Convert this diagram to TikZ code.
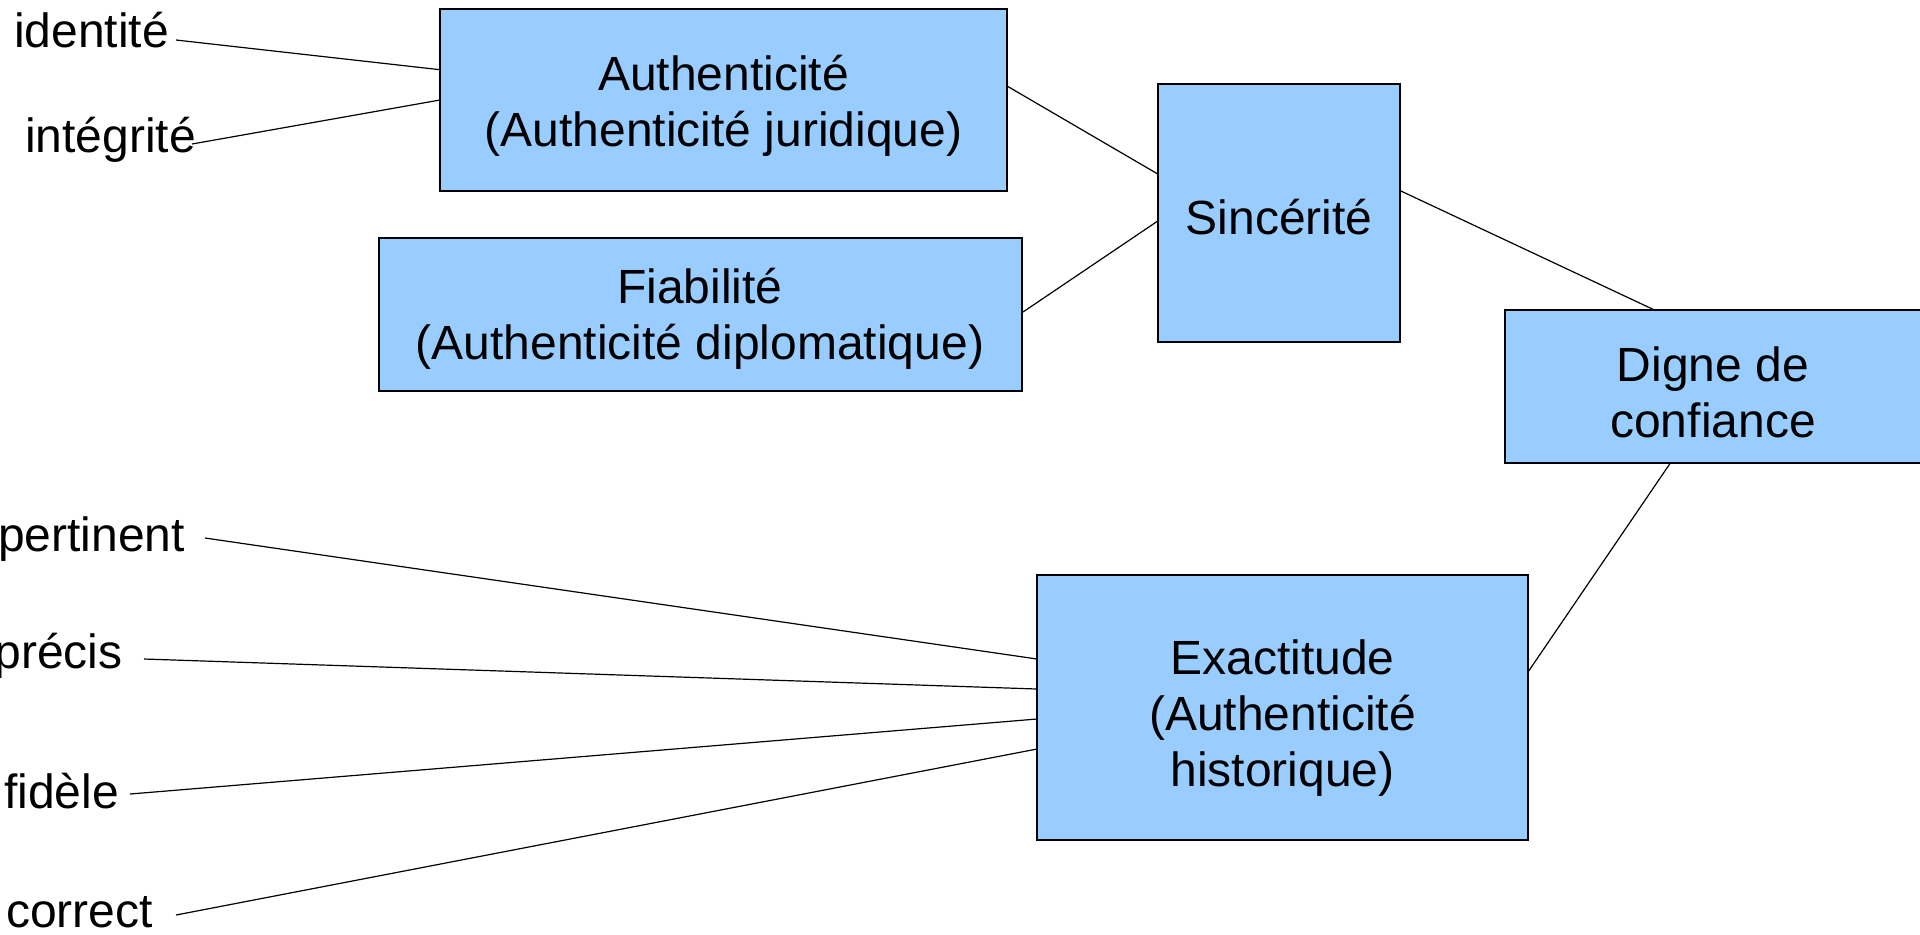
\documentclass[tikz,border=0pt]{standalone}
\usepackage{fontspec}
\setmainfont{Liberation Sans}
\definecolor{boxblue}{RGB}{153,204,255}
\begin{document}
\begin{tikzpicture}[x=0.5pt,y=-0.5pt,
  font=\fontsize{24}{28}\selectfont,
  box/.style={draw=black,line width=1pt,fill=boxblue,
    inner sep=0pt,outer sep=0pt},
  boxtext/.style={align=center,inner sep=0pt,font=\fontsize{24}{28}\selectfont},
  term/.style={inner sep=0pt,outer sep=0pt,anchor=base east},
  link/.style={draw=black,line width=0.6pt}]
\useasboundingbox (0,0) rectangle (1920,934);

% concept boxes, each with its centred caption
\node[box,minimum width=283.5pt,minimum height=91pt,
  label={[boxtext,yshift=-3pt]center:Authenticité\\(Authenticité juridique)}]
  (auth) at (723.5,100) {};
\node[box,minimum width=321.5pt,minimum height=76.5pt,
  label={[boxtext,yshift=-2.5pt]center:Fiabilité\\(Authenticité diplomatique)}]
  (fiab) at (700,314) {};
\node[box,minimum width=121.25pt,minimum height=129pt,
  label={[boxtext,yshift=-2pt]center:Sincérité}]
  (sinc) at (1279,213) {};
\node[box,minimum width=208pt,minimum height=76.25pt,
  label={[boxtext,yshift=-3pt]center:Digne de\\confiance}]
  (digne) at (1713,386.5) {};
\node[box,minimum width=245.5pt,minimum height=132.5pt,
  label={[boxtext,yshift=-5.5pt]center:Exactitude\\(Authenticité\\historique)}]
  (exact) at (1282.5,707.5) {};

% qualifier terms
\node[term] (idt)  at (169,47)    {identité};
\node[term] (intg) at (196,152)   {intégrité};
\node[term] (pert) at (185,551.7) {pertinent};
\node[term] (prec) at (122.5,668) {précis};
\node[term] (fid)  at (119,808)   {fidèle};
\node[term] (corr) at (153,927)   {correct};

% terms to their concepts
\draw[link] ([shift={(7,-7)}]idt.base east) -- ([shift={(0,-30.3)}]auth.west);
\draw[link] ([shift={(-4,-8)}]intg.base east) -- (auth.west);
\draw[link] ([shift={(20,-13.7)}]pert.base east) -- ([shift={(0,-48.5)}]exact.west);
\draw[link] ([shift={(21.5,-9)}]prec.base east) -- ([shift={(0,-18.5)}]exact.west);
\draw[link] ([shift={(11,-14)}]fid.base east) -- ([shift={(0,11.5)}]exact.west);
\draw[link] ([shift={(23,-12)}]corr.base east) -- ([shift={(0,41.5)}]exact.west);

% concepts to concepts
\draw[link] ([shift={(0,-14)}]auth.east) -- ([shift={(0,-39)}]sinc.west);
\draw[link] ([shift={(0,-1)}]fiab.east) -- ([shift={(0,8)}]sinc.west);
\draw[link] ([shift={(0,-22.3)}]sinc.east) -- ([shift={(-58,0)}]digne.north);
\draw[link] ([shift={(0,-35.5)}]exact.east) -- ([shift={(-42.5,0)}]digne.south);
\end{tikzpicture}
\end{document}
